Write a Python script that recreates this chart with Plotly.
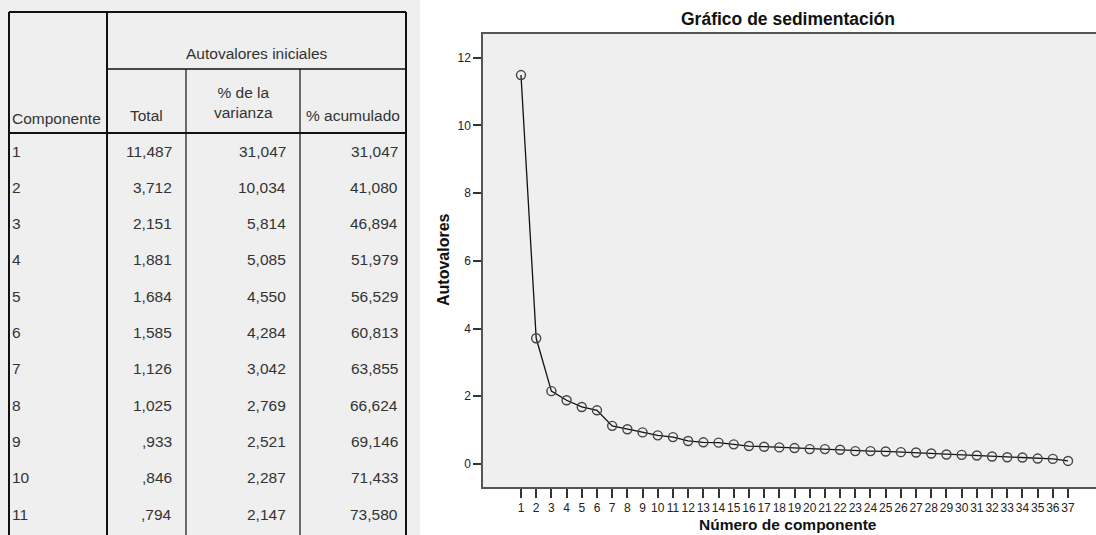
import plotly.graph_objects as go

# ---------------- data ----------------
componentes = list(range(1, 38))
autovalores = [11.487, 3.712, 2.151, 1.881, 1.684, 1.585, 1.126, 1.025, 0.933, 0.846,
               0.794, 0.68, 0.64, 0.63, 0.58, 0.53, 0.51, 0.49, 0.47, 0.44,
               0.44, 0.42, 0.38, 0.38, 0.37, 0.35, 0.34, 0.31, 0.28, 0.27,
               0.25, 0.22, 0.20, 0.19, 0.16, 0.15, 0.09]

tabla_componente = list(range(1, 12))
tabla_total = [11.487, 3.712, 2.151, 1.881, 1.684, 1.585, 1.126, 1.025, 0.933, 0.846, 0.794]
tabla_pct_var = [31.047, 10.034, 5.814, 5.085, 4.550, 4.284, 3.042, 2.769, 2.521, 2.287, 2.147]
tabla_pct_acum = [31.047, 41.080, 46.894, 51.979, 56.529, 60.813, 63.855, 66.624, 69.146, 71.433, 73.580]

titulo = "Gráfico de sedimentación"
titulo_x = "Número de componente"
titulo_y = "Autovalores"
cab_grupo = "Autovalores iniciales"
cab_cols = ["Componente", "Total", "% de la<br>varianza", "% acumulado"]


def fmt(v):
    s = f"{v:.3f}".replace(".", ",")
    if s.startswith("0,"):
        s = s[1:]
    return s


W, H = 1096, 535
fig = go.Figure()

# ---------------- scree plot ----------------
fig.add_trace(go.Scatter(
    x=componentes, y=autovalores, mode="lines+markers",
    line=dict(color="#111111", width=1.3),
    marker=dict(symbol="circle-open", size=9, color="#444444", line=dict(width=1.4)),
    showlegend=False, hoverinfo="x+y", xaxis="x", yaxis="y"))

# ---------------- table (on its own pixel-unit axes) ----------------
tfont = dict(family="Liberation Sans, Arial, sans-serif", size=15.5, color="#333333")

TL, C1, C2, C3, TR = 9, 107, 186, 300, 406   # column boundaries (px)
TOP, SUB, HB = 12, 69, 133                   # header lines (px)
ROW0, ROWH = 151, 36.3


def row_y(i):
    return ROW0 + i * ROWH


annotations = []
def ann(x, y, text, anchor):
    annotations.append(dict(x=x, y=y, xref="x2", yref="y2", text=text, showarrow=False,
                            xanchor=anchor, yanchor="middle", font=tfont, align="center"))

ann((C1 + TR) / 2, 53, cab_grupo, "center")
ann(TL + 1, 118, cab_cols[0], "left")
ann((C1 + C2) / 2, 115, cab_cols[1], "center")
ann((C2 + C3) / 2, 102, cab_cols[2], "center")
ann((C3 + TR) / 2, 115, cab_cols[3], "center")

for i, c in enumerate(tabla_componente):
    y = row_y(i)
    ann(TL + 1, y, str(c), "left")
    ann(C2 - 12, y, fmt(tabla_total[i]), "right")
    ann(C3 - 12, y, fmt(tabla_pct_var[i]), "right")
    ann(TR - 6, y, fmt(tabla_pct_acum[i]), "right")

shapes = []
def line(x0, y0, x1, y1, w):
    shapes.append(dict(type="line", xref="x2", yref="y2", x0=x0, y0=y0, x1=x1, y1=y1,
                       line=dict(color="#111111", width=w)))

line(TL, TOP, TR, TOP, 2)
line(C1, SUB, TR, SUB, 1.5)
line(TL, HB, TR, HB, 2)
line(TL, TOP, TL, H, 2)
line(C1, TOP, C1, H, 2)
line(C2, SUB, C2, H, 1.2)
line(C3, SUB, C3, H, 1.2)
line(TR, TOP, TR, H, 2)

fig.add_trace(go.Scatter(x=[0], y=[0], mode="markers", marker=dict(opacity=0),
                         showlegend=False, hoverinfo="skip", xaxis="x2", yaxis="y2"))

# ---------------- layout ----------------
PL, PR, PT, PB = 483, 1096, 34, 487
afont = dict(family="Liberation Sans, Arial, sans-serif", size=12, color="#222222")
bfont = "Liberation Sans, Arial, sans-serif"

annotations.append(dict(x=(PL + 1092) / 2 / W, y=1 - 19 / H, xref="paper", yref="paper",
                        text=f"<b>{titulo}</b>", showarrow=False, xanchor="center", yanchor="middle",
                        font=dict(family=bfont, size=17.5, color="#111111")))
annotations.append(dict(x=(PL + 1092) / 2 / W, y=1 - 524 / H, xref="paper", yref="paper",
                        text=f"<b>{titulo_x}</b>", showarrow=False, xanchor="center", yanchor="middle",
                        font=dict(family=bfont, size=15.5, color="#111111")))
annotations.append(dict(x=443 / W, y=1 - 260 / H, xref="paper", yref="paper",
                        text=f"<b>{titulo_y}</b>", showarrow=False, textangle=-90,
                        xanchor="center", yanchor="middle",
                        font=dict(family=bfont, size=16, color="#111111")))

fig.update_layout(
    width=W, height=H, margin=dict(l=0, r=0, t=0, b=0),
    paper_bgcolor="white", plot_bgcolor="#efefef",
    xaxis=dict(domain=[PL / W, PR / W], range=[-1.5, 38.84], tickmode="array",
               tickvals=componentes, ticktext=[str(c) for c in componentes],
               ticks="outside", ticklen=9, tickwidth=1.5, tickcolor="#333333",
               showline=True, linecolor="#555555", linewidth=1.5, mirror=True,
               showgrid=False, zeroline=False, tickfont=afont, tickangle=0,
               anchor="y"),
    yaxis=dict(domain=[1 - PB / H, 1 - PT / H], range=[-0.68, 12.70],
               tickvals=[0, 2, 4, 6, 8, 10, 12],
               ticks="outside", ticklen=8, tickwidth=1.5, tickcolor="#333333",
               showline=True, linecolor="#555555", linewidth=1.5,
               showgrid=False, zeroline=False, tickfont=afont, anchor="x"),
    xaxis2=dict(domain=[0, 420 / W], range=[0, 420], visible=False, fixedrange=True, anchor="y2"),
    yaxis2=dict(domain=[0, 1], range=[H, 0], visible=False, fixedrange=True, anchor="x2"),
    annotations=annotations, shapes=shapes,
)

fig.write_html("out.html")
